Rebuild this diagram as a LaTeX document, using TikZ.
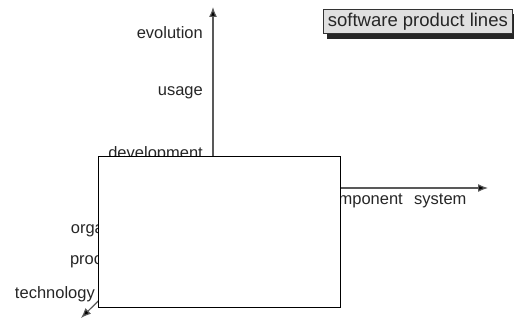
\documentclass[tikz,border=0pt]{standalone}
\usepackage{fontspec}
\setmainfont{Liberation Sans}
\usetikzlibrary{arrows.meta}
\begin{document}
\begin{tikzpicture}[x=1pt,y=-1pt,
  axis/.style={draw=black!65, line width=1.2pt, -{Latex[length=10pt,width=8pt,fill=black]}},
  lbl/.style={inner sep=0pt, text=black!85, font=\fontsize{16.5}{18}\selectfont},
  cover/.style={draw=black, fill=white, line width=1pt},
  tag/.style={draw=black!80, fill=black!12, line width=0.7pt, inner xsep=1pt, inner ysep=2pt,
    font=\fontsize{18.5}{20}\selectfont, text=black!85}]
\useasboundingbox (0,0) rectangle (514,320);
% axes
\coordinate (o) at (213,188);
\coordinate (ytip) at (213,7);
\coordinate (xtip) at (488,188);
\coordinate (ztip) at (81,318);
\draw[axis] (o) -- (ytip);
\draw[axis] (o) -- (xtip);
\draw[axis] (o) -- (ztip);
% vertical axis labels
\node[lbl, anchor=east] (evo) at (203,33) {evolution};
\node[lbl, anchor=east] (use) at (203,93) {usage};
\node[lbl, anchor=east] (dev) at (203,154) {development};
% depth axis labels
\node[lbl, anchor=east] (org) at (161,229) {organization};
\node[lbl, anchor=east] (pro) at (128,262) {process};
\node[lbl, anchor=east] (tec) at (95,294) {technology};
% horizontal axis labels
\node[lbl, anchor=east] (com) at (403,201) {component};
\node[lbl, anchor=west] (sys) at (414,201) {system};
% white panel in front of the axes
\draw[cover] (98,157) rectangle (340,308);
% tag with drop shadow
\fill[black!85] (327,14) rectangle (514,39);
\node[tag, anchor=north west, minimum width=189pt, minimum height=24pt] (spl) at (323,9) {software product lines};
\end{tikzpicture}
\end{document}
